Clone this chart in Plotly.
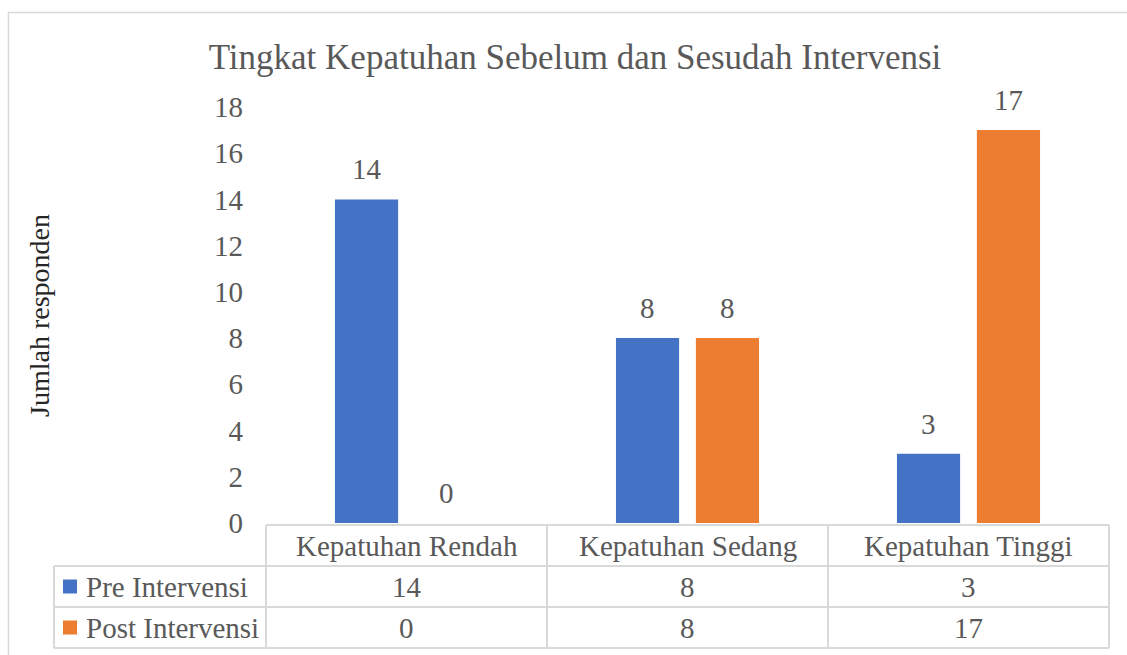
import plotly.graph_objects as go

# ---- data ----
categories = ["Kepatuhan Rendah", "Kepatuhan Sedang", "Kepatuhan Tinggi"]
series_names = ["Pre Intervensi", "Post Intervensi"]
pre_values = [14, 8, 3]
post_values = [0, 8, 17]
y_ticks = [0, 2, 4, 6, 8, 10, 12, 14, 16, 18]
title_text = "Tingkat Kepatuhan Sebelum dan Sesudah Intervensi"
y_title = "Jumlah responden"

# ---- style ----
W, H = 1127, 655
FONT = "Liberation Serif, Times New Roman, serif"
TXT = "#595959"
GRID = "#D9D9D9"
colors = ["#4472C4", "#ED7D31"]
ML, MR, MT, MB = 266, 18, 107, 132
PW, PH = W - ML - MR, H - MT - MB
BARGAP, BARGROUPGAP = 0.431, 0.21
FS = 29

def px_x(px):
    return (px - ML) / PW

def px_y(py):
    return (H - MB - py) / PH

fig = go.Figure()
all_vals = [pre_values, post_values]
for name, vals, col in zip(series_names, all_vals, colors):
    fig.add_trace(go.Bar(x=categories, y=vals, name=name, marker_color=col,
                         marker_line_width=0, showlegend=False, hoverinfo="skip"))

annotations = []
shapes = []

# data labels above bars
slot_px = (PW / len(categories)) * (1 - BARGAP) / len(all_vals)
for si, vals in enumerate(all_vals):
    off = (si - (len(all_vals) - 1) / 2) * slot_px
    for c, v in zip(categories, vals):
        annotations.append(dict(x=c, y=v, xref="x", yref="y", text=str(v),
                                showarrow=False, xshift=off, yshift=12,
                                yanchor="bottom", xanchor="center",
                                font=dict(family=FONT, size=FS, color=TXT)))

# data table
header_top, row1, row2, bottom = 525, 566, 607, 648
left_tbl = 54
line = dict(color=GRID, width=2)
shapes.append(dict(type="line", xref="paper", yref="paper", x0=0, x1=1,
                   y0=px_y(header_top), y1=px_y(header_top), line=line))
for yy in (row1, row2, bottom):
    shapes.append(dict(type="line", xref="paper", yref="paper", x0=px_x(left_tbl), x1=1,
                       y0=px_y(yy), y1=px_y(yy), line=line))
for i in range(len(categories) + 1):
    shapes.append(dict(type="line", xref="paper", yref="paper",
                       x0=i / len(categories), x1=i / len(categories),
                       y0=px_y(header_top), y1=px_y(bottom), line=line))
shapes.append(dict(type="line", xref="paper", yref="paper", x0=px_x(left_tbl), x1=px_x(left_tbl),
                   y0=px_y(row1), y1=px_y(bottom), line=line))

for c in categories:
    annotations.append(dict(x=c, xref="x", y=px_y((header_top + row1) / 2), yref="paper",
                            text=c, showarrow=False, xanchor="center", yanchor="middle",
                            font=dict(family=FONT, size=FS, color=TXT)))
row_centers = [(row1 + row2) / 2, (row2 + bottom) / 2]
for si, (name, vals, col) in enumerate(zip(series_names, all_vals, colors)):
    yc = row_centers[si]
    shapes.append(dict(type="rect", xref="paper", yref="paper",
                       x0=px_x(63), x1=px_x(77), y0=px_y(yc + 7), y1=px_y(yc - 7),
                       fillcolor=col, line=dict(width=0)))
    annotations.append(dict(x=px_x(84), xref="paper", y=px_y(yc), yref="paper",
                            text=name, showarrow=False, xanchor="left", yanchor="middle",
                            font=dict(family=FONT, size=FS, color=TXT)))
    for c, v in zip(categories, vals):
        annotations.append(dict(x=c, xref="x", y=px_y(yc), yref="paper",
                                text=str(v), showarrow=False, xanchor="center", yanchor="middle",
                                font=dict(family=FONT, size=FS, color=TXT)))

annotations.append(dict(x=px_x(39), xref="paper", y=px_y(315), yref="paper",
                        text=y_title, textangle=-90, showarrow=False,
                        xanchor="center", yanchor="middle",
                        font=dict(family=FONT, size=FS - 1, color="#262626")))

shapes.append(dict(type="rect", xref="paper", yref="paper",
                   x0=px_x(8.5), x1=px_x(1160), y0=px_y(700), y1=px_y(12.5),
                   line=dict(color=GRID, width=1.5), fillcolor="rgba(0,0,0,0)", layer="below"))

fig.update_layout(
    width=W, height=H,
    margin=dict(l=ML, r=MR, t=MT, b=MB),
    paper_bgcolor="white", plot_bgcolor="white",
    barmode="group", bargap=BARGAP, bargroupgap=BARGROUPGAP,
    title=dict(text=title_text, x=575 / W, xanchor="center", xref="container",
               y=1 - 57 / H, yanchor="middle", yref="container",
               font=dict(family=FONT, size=35, color=TXT)),
    xaxis=dict(showticklabels=False, showline=False, showgrid=False, zeroline=False,
               ticks=""),
    yaxis=dict(range=[0, 18], tickvals=y_ticks, showgrid=False, zeroline=False,
               showline=False, ticks="", ticklabelstandoff=22,
               tickfont=dict(family=FONT, size=FS, color=TXT)),
    annotations=annotations, shapes=shapes, showlegend=False,
)

fig.write_html("out.html", config={"displayModeBar": False},
               post_script="document.body.style.margin='0';document.body.style.overflow='hidden';")
